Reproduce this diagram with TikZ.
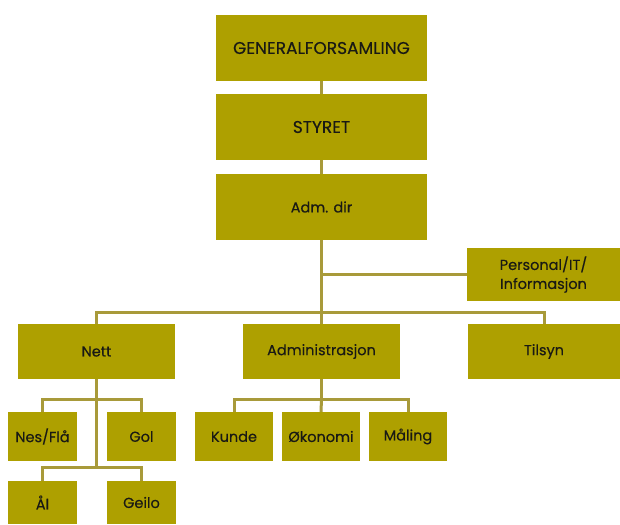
\documentclass[tikz,border=0pt]{standalone}
\usepackage{fontspec}
\setmainfont{Poppins}
\newfontfamily\orgfont{Poppins}[FakeBold=0.4]
\definecolor{boxgold}{RGB}{174,160,0}
\definecolor{linkgold}{RGB}{168,154,58}
\definecolor{txtdark}{RGB}{25,25,20}

\begin{document}
\begin{tikzpicture}[x=1pt,y=-1pt,
    unit/.style={fill=boxgold, text=txtdark, font=\orgfont\fontsize{14.5}{19}\selectfont, align=center, inner sep=0pt},
    topunit/.style={unit, minimum width=211pt, minimum height=66pt},
    capslabel/.style={font=\orgfont\fontsize{17}{20}\selectfont},
    dept/.style={unit, minimum width=157pt, minimum height=55pt},
    office/.style={unit, minimum width=69pt, minimum height=49pt},
    section/.style={unit, minimum width=78pt, minimum height=49pt},
    link/.style={draw=linkgold, line width=3pt}]
    \useasboundingbox (0,0) rectangle (620,524);

    % Top of the organisation
    \node[topunit, capslabel] (gen) at (321.5,48) {GENERALFORSAMLING};
    \node[topunit, capslabel] (styret) at (321.5,127) {STYRET};
    \node[topunit] (adm) at (321.5,207) {Adm. dir};

    % Staff function
    \node[unit, minimum width=153pt, minimum height=53pt] (pers) at (543.5,274.5) {Personal/IT/\\Informasjon};

    % Departments
    \node[dept] (nett) at (96.5,351.5) {Nett};
    \node[dept] (admin) at (321.5,351.5) {Administrasjon};
    \node[dept, minimum width=152pt] (tilsyn) at (544,351.5) {Tilsyn};

    % Local offices under Nett
    \node[office] (nes) at (42.5,436.5) {Nes/Flå};
    \node[office] (gol) at (141.5,436.5) {Gol};
    \node[office, minimum height=43pt] (al) at (42.5,502.5) {Ål};
    \node[office, minimum height=43pt] (geilo) at (141.5,502.5) {Geilo};

    % Sections under Administrasjon
    \node[section] (kunde) at (234,436.5) {Kunde};
    \node[section] (okonomi) at (321,436.5) {Økonomi};
    \node[section] (maaling) at (408,436.5) {Måling};

    % Branch points
    \coordinate (hub) at (321.5,312);
    \coordinate (nettfork) at (96.5,399);
    \coordinate (nettfork2) at (96.5,467);
    \coordinate (adminfork) at (321.5,399);

    % Main line
    \draw[link] (gen) -- (styret);
    \draw[link] (styret) -- (adm);
    \draw[link] (adm.south) -- (hub);
    \draw[link] (adm.south |- pers.west) -- (pers.west);

    % Department lines
    \draw[link] (hub) -| (nett.north);
    \draw[link] (hub) -- (admin.north);
    \draw[link] (hub) -| (tilsyn.north);

    % Nett lines
    \draw[link] (nett.south) -- (nettfork2);
    \draw[link] (nes.north) |- (nettfork) -| (gol.north);
    \draw[link] (al.north) |- (nettfork2) -| (geilo.north);

    % Administrasjon lines
    \draw[link] (admin.south) -- (adminfork);
    \draw[link] (kunde.north) |- (adminfork) -| (maaling.north);
    \draw[link] (adminfork) -- (okonomi.north);

\end{tikzpicture}
\end{document}
